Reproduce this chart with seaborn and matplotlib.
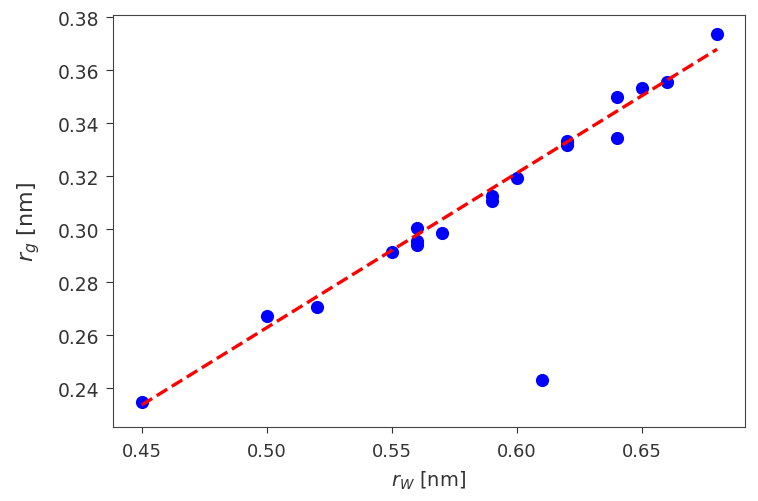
import numpy as np
import pandas as pd
import matplotlib
matplotlib.use("Agg")
import matplotlib.pyplot as plt
import seaborn as sns

# data
r_w = [0.45, 0.50, 0.52, 0.55, 0.56, 0.56, 0.56, 0.57, 0.59, 0.59,
       0.60, 0.61, 0.62, 0.62, 0.64, 0.64, 0.65, 0.66, 0.68]
r_g = [0.2349, 0.2671, 0.2707, 0.2914, 0.3003, 0.2955, 0.2940, 0.2984, 0.3125, 0.3105,
       0.3192, 0.2429, 0.3335, 0.3318, 0.3501, 0.3343, 0.3533, 0.3558, 0.3738]

# dashed fit line (end points)
fit_x = [0.45, 0.68]
fit_y = [0.2336, 0.3680]

df = pd.DataFrame({"r_w": r_w, "r_g": r_g})
fit = pd.DataFrame({"x": fit_x, "y": fit_y})

sns.set_style("ticks")
plt.rcParams["font.family"] = ["DejaVu Sans"]

fig, ax = plt.subplots(figsize=(7.58, 5.02), dpi=100)
fig.subplots_adjust(left=0.149, right=0.983, top=0.969, bottom=0.147)

sns.scatterplot(data=df, x="r_w", y="r_g", color="#0000ff", s=90, linewidth=0, ax=ax, zorder=2)
sns.lineplot(data=fit, x="x", y="y", color="red", linestyle="--", linewidth=2.4, ax=ax, zorder=3)

ax.set_xlim(0.4385, 0.6912)
ax.set_ylim(0.2252, 0.3811)
ax.set_xticks([0.45, 0.50, 0.55, 0.60, 0.65])
ax.set_yticks(np.round(np.arange(0.24, 0.381, 0.02), 2))
ax.xaxis.set_major_formatter(matplotlib.ticker.FormatStrFormatter("%.2f"))
ax.yaxis.set_major_formatter(matplotlib.ticker.FormatStrFormatter("%.2f"))
ax.tick_params(axis="x", labelsize=13, colors="#333333", length=4.5, pad=6)
ax.tick_params(axis="y", labelsize=13.5, colors="#333333", length=5, pad=4.5)
for s in ax.spines.values():
    s.set_color("#444444")

ax.set_xlabel("$r_W$ [nm]", fontsize=14, color="#333333")
ax.set_ylabel("$r_g$ [nm]", fontsize=16, color="#333333")
ax.xaxis.set_label_coords(0.5, -0.128)
ax.xaxis.label.set_va("center")
ax.yaxis.set_label_coords(-0.134, 0.5)
ax.yaxis.label.set_va("center")

fig.savefig("out.png", dpi=100)
